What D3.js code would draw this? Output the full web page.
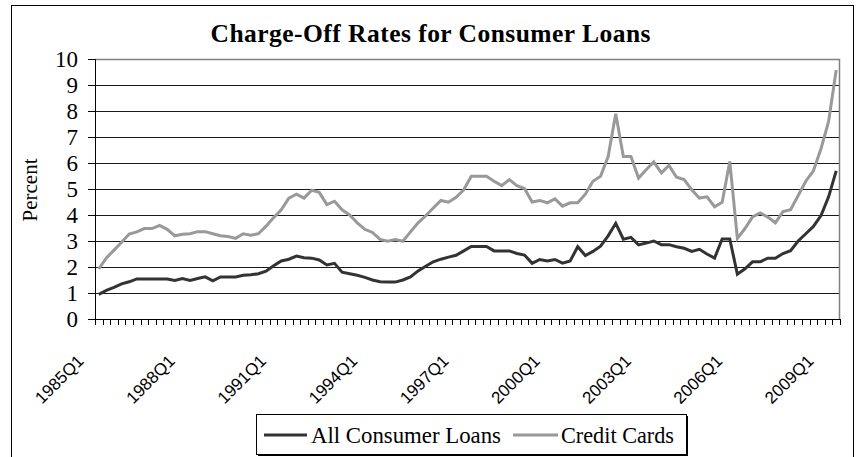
<!DOCTYPE html>
<html>
<head>
<meta charset="utf-8">
<script src="https://cdn.jsdelivr.net/npm/d3@7/dist/d3.min.js"></script>
<style>
html,body{margin:0;padding:0;background:#fff;}
svg{display:block;}
</style>
</head>
<body>
<svg id="chart" width="856" height="457"></svg>
<script>
// ---- DATA ----
const titleText = "Charge-Off Rates for Consumer Loans";
const yAxisLabel = "Percent";
const seriesNames = ["All Consumer Loans", "Credit Cards"];

// quarterly categories 1985Q1 .. 2009Q2
const quarters = [];
for (let yr = 1985; yr <= 2009; yr++) {
  for (let q = 1; q <= 4; q++) {
    if (quarters.length < 98) quarters.push(yr + "Q" + q);
  }
}
const xTickLabels = ["1985Q1","1988Q1","1991Q1","1994Q1","1997Q1","2000Q1","2003Q1","2006Q1","2009Q1"];
const yTicks = [0,1,2,3,4,5,6,7,8,9,10];

const allConsumerLoans = [
  0.95,1.1,1.22,1.35,1.43,1.54,1.54,1.54,1.54,1.54,
  1.48,1.56,1.48,1.56,1.62,1.47,1.62,1.62,1.62,1.68,
  1.7,1.74,1.84,2.05,2.23,2.3,2.42,2.36,2.34,2.27,
  2.08,2.14,1.8,1.74,1.68,1.6,1.5,1.43,1.42,1.42,
  1.5,1.62,1.85,2.03,2.2,2.3,2.38,2.45,2.62,2.79,
  2.79,2.79,2.62,2.62,2.62,2.52,2.46,2.14,2.29,2.23,
  2.29,2.15,2.23,2.78,2.44,2.6,2.8,3.2,3.68,3.07,
  3.14,2.85,2.92,3.0,2.86,2.86,2.78,2.72,2.6,2.68,
  2.5,2.34,3.08,3.08,1.72,1.93,2.2,2.2,2.34,2.34,
  2.52,2.63,3.0,3.28,3.56,3.98,4.7,5.7
];
const creditCards = [
  1.93,2.35,2.65,2.95,3.27,3.35,3.48,3.48,3.6,3.45,
  3.2,3.26,3.28,3.36,3.36,3.28,3.2,3.17,3.1,3.28,
  3.22,3.28,3.57,3.9,4.2,4.65,4.8,4.65,4.95,4.87,
  4.4,4.53,4.2,4.0,3.7,3.45,3.33,3.06,2.99,3.06,
  2.99,3.35,3.7,3.97,4.27,4.56,4.49,4.68,4.97,5.49,
  5.49,5.49,5.3,5.13,5.36,5.13,5.02,4.5,4.56,4.47,
  4.62,4.34,4.47,4.47,4.8,5.3,5.49,6.25,7.89,6.25,
  6.25,5.42,5.74,6.04,5.62,5.91,5.45,5.36,4.97,4.65,
  4.7,4.32,4.49,6.06,3.1,3.48,3.93,4.08,3.92,3.7,
  4.13,4.2,4.75,5.3,5.7,6.55,7.6,9.58
];

// ---- LAYOUT ----
const svg = d3.select("#chart");
const plot = {left: 95, right: 840, top: 59, bottom: 319};
const serif = "'Liberation Serif','Times New Roman',serif";
const sans = "'Liberation Sans',Arial,sans-serif";
const darkColor = "#333333";
const lightColor = "#999999";

const x = d3.scaleBand().domain(quarters).range([plot.left, plot.right]).paddingInner(0).paddingOuter(0);
const y = d3.scaleLinear().domain([0, 10]).range([plot.bottom, plot.top]);
const cx = q => x(q) + x.bandwidth() / 2;

// outer chart border
svg.append("rect").attr("x", 11.5).attr("y", 5.5).attr("width", 842).attr("height", 470)
  .attr("fill", "none").attr("stroke", "#000").attr("stroke-width", 1);

// title
svg.append("text").attr("x", 430.5).attr("y", 42).attr("text-anchor", "middle")
  .attr("font-family", serif).attr("font-weight", "bold").attr("font-size", 25.5)
  .attr("textLength", 440).attr("lengthAdjust", "spacing")
  .text(titleText);

// gridlines
svg.append("g").selectAll("line").data(yTicks.filter(d => d > 0 && d < 10)).join("line")
  .attr("x1", plot.left).attr("x2", plot.right)
  .attr("y1", d => Math.round(y(d)) + 0.5).attr("y2", d => Math.round(y(d)) + 0.5)
  .attr("stroke", "#1a1a1a").attr("stroke-width", 1);

// plot-area border (top & right, gray)
svg.append("path")
  .attr("d", `M${plot.left},${plot.top + 0.5}H${plot.right - 0.5}V${plot.bottom}`)
  .attr("fill", "none").attr("stroke", "#808080").attr("stroke-width", 1.5);

// y axis
const gy = svg.append("g");
gy.append("line").attr("x1", plot.left + 0.5).attr("x2", plot.left + 0.5)
  .attr("y1", plot.top).attr("y2", plot.bottom).attr("stroke", "#000");
gy.selectAll("line.tick").data(yTicks).join("line").attr("class", "tick")
  .attr("x1", plot.left - 7).attr("x2", plot.left)
  .attr("y1", d => Math.round(y(d)) + 0.5).attr("y2", d => Math.round(y(d)) + 0.5)
  .attr("stroke", "#000");
gy.selectAll("text").data(yTicks).join("text")
  .attr("x", 78).attr("y", d => y(d) + 8).attr("text-anchor", "end")
  .attr("font-family", serif).attr("font-size", 23).attr("fill", "#000")
  .text(d => d);

// y axis title
svg.append("text").attr("transform", "translate(37,190) rotate(-90)")
  .attr("text-anchor", "middle").attr("font-family", serif).attr("font-size", 21)
  .text(yAxisLabel);

// x axis
const gx = svg.append("g");
gx.append("line").attr("x1", plot.left).attr("x2", plot.right)
  .attr("y1", plot.bottom + 0.5).attr("y2", plot.bottom + 0.5).attr("stroke", "#000");
const boundaries = quarters.map(q => x(q)).concat([x.range()[1]]);
gx.selectAll("line.tick").data(boundaries).join("line").attr("class", "tick")
  .attr("x1", d => Math.round(d) + 0.5).attr("x2", d => Math.round(d) + 0.5)
  .attr("y1", plot.bottom).attr("y2", plot.bottom + 6).attr("stroke", "#000");
gx.selectAll("text").data(xTickLabels).join("text")
  .attr("transform", d => `translate(${cx(d) - 14},362) rotate(-45)`)
  .attr("text-anchor", "end").attr("font-family", sans).attr("font-size", 17)
  .attr("fill", "#000").text(d => d);

// lines
const line = d3.line().x((d, i) => cx(quarters[i])).y(d => y(d));
svg.append("path").datum(creditCards).attr("d", line)
  .attr("fill", "none").attr("stroke", lightColor).attr("stroke-width", 3)
  .attr("stroke-linejoin", "miter").attr("stroke-miterlimit", 3);
svg.append("path").datum(allConsumerLoans).attr("d", line)
  .attr("fill", "none").attr("stroke", darkColor).attr("stroke-width", 3)
  .attr("stroke-linejoin", "miter").attr("stroke-miterlimit", 3);

// legend
const lg = svg.append("g");
lg.append("rect").attr("x", 258).attr("y", 416).attr("width", 430).attr("height", 40)
  .attr("fill", "#000");
lg.append("rect").attr("x", 256.5).attr("y", 414.5).attr("width", 430).attr("height", 40)
  .attr("fill", "#fff").attr("stroke", "#000").attr("stroke-width", 1);
const legendItems = [
  {name: seriesNames[0], color: darkColor, x0: 264, x1: 307, tx: 311, w: 190},
  {name: seriesNames[1], color: lightColor, x0: 513, x1: 558, tx: 561, w: 113}
];
legendItems.forEach(it => {
  lg.append("line").attr("x1", it.x0).attr("x2", it.x1).attr("y1", 435).attr("y2", 435)
    .attr("stroke", it.color).attr("stroke-width", 3);
  lg.append("text").attr("x", it.tx).attr("y", 443).attr("font-family", serif)
    .attr("font-size", 22.5).attr("fill", "#000")
    .attr("textLength", it.w).attr("lengthAdjust", "spacingAndGlyphs").text(it.name);
});
</script>
</body>
</html>
